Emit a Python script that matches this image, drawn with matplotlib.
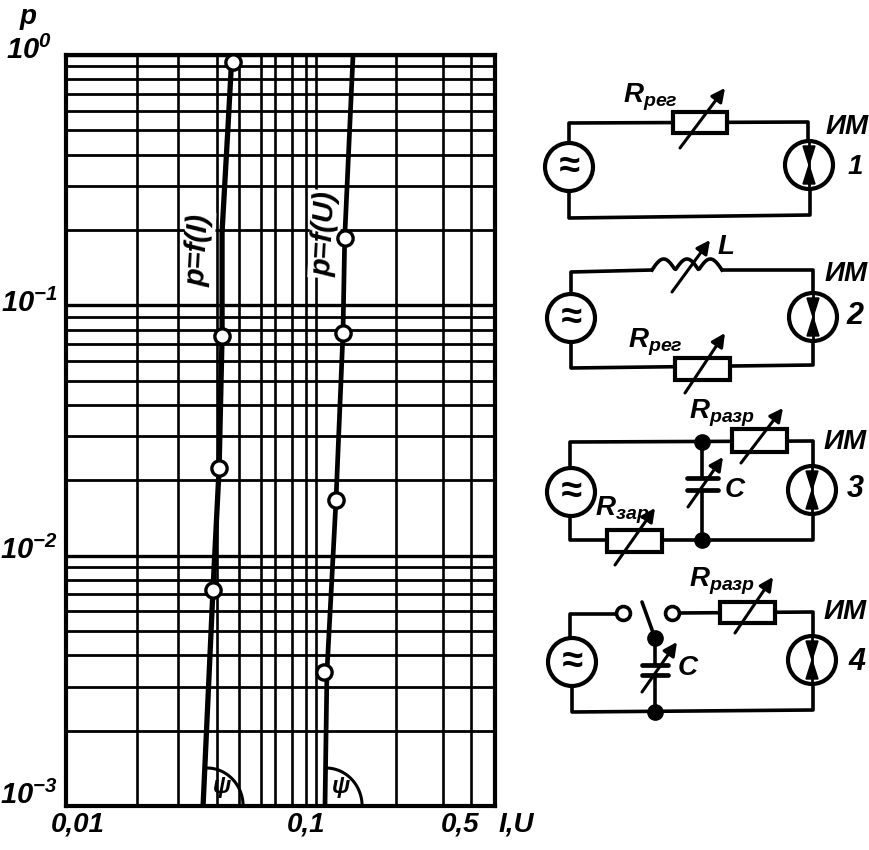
import numpy as np
import matplotlib
matplotlib.use('Agg')
import matplotlib.pyplot as plt
from matplotlib.patches import Circle, Rectangle, Polygon
from matplotlib.ticker import LogLocator, NullFormatter, NullLocator

plt.rcParams['font.family'] = ['Liberation Sans', 'DejaVu Sans']
plt.rcParams['font.weight'] = 'bold'
plt.rcParams['font.style'] = 'italic'
plt.rcParams['mathtext.fontset'] = 'custom'
plt.rcParams['mathtext.rm'] = 'Liberation Sans:italic:bold'
plt.rcParams['mathtext.it'] = 'Liberation Sans:italic:bold'
plt.rcParams['mathtext.bf'] = 'Liberation Sans:italic:bold'
plt.rcParams['mathtext.default'] = 'rm'

# vertical grid lines (the print is a bit off log)
grid_x = [0.01, 0.0191, 0.0278, 0.0396, 0.0484, 0.0592, 0.0672, 0.0785, 0.0892,
          0.0977, 0.2027, 0.3112, 0.4018, 0.5]

# p = f(I)
curve_i_x = [0.0454, 0.0438, 0.0415, 0.0415, 0.0404, 0.0382, 0.0349]
curve_i_p = [1.0, 0.515, 0.196, 0.0754, 0.0224, 0.0073, 0.001]
points_i_x = [0.0458, 0.0415, 0.0404, 0.0382]
points_i_p = [0.937, 0.0754, 0.0224, 0.0073]

# p = f(U)
curve_u_x = [0.137, 0.127, 0.125, 0.1173, 0.108, 0.1061]
curve_u_p = [1.0, 0.186, 0.0776, 0.0167, 0.00343, 0.001]
points_u_x = [0.127, 0.125, 0.1173, 0.1051]
points_u_p = [0.186, 0.0776, 0.0167, 0.00343]

x_labels = ['0,01', '0,1', '0,5', 'I,U']
y_labels = ['$10^{0}$', '$10^{-1}$', '$10^{-2}$', '$10^{-3}$']

W, H = 870, 850
fig = plt.figure(figsize=(W/100, H/100), dpi=100, facecolor='white')

# chart
ax = fig.add_axes([66/W, 1-806/H, (495-66)/W, (806-55)/H])
ax.set_xscale('log')
ax.set_yscale('log')
ax.set_xlim(0.01, 0.5)
ax.set_ylim(0.001, 1)
ax.set_xticks(grid_x)
ax.xaxis.set_minor_locator(NullLocator())
ax.xaxis.set_major_formatter(NullFormatter())
ax.xaxis.set_minor_formatter(NullFormatter())
ax.yaxis.set_major_locator(LogLocator(base=10, numticks=5))
ax.yaxis.set_minor_locator(LogLocator(base=10, subs=range(2, 10), numticks=5))
ax.yaxis.set_major_formatter(NullFormatter())
ax.yaxis.set_minor_formatter(NullFormatter())
ax.tick_params(which='both', length=0)
ax.grid(True, which='major', axis='x', color='k', lw=1.9)
ax.grid(True, which='major', axis='y', color='k', lw=2.4)
ax.grid(True, which='minor', axis='y', color='k', lw=2.0)
ax.set_axisbelow(True)
for s in ax.spines.values():
    s.set_linewidth(3.0)

ax.plot(curve_i_x, curve_i_p, color='k', lw=3.8, zorder=3)
ax.plot(curve_u_x, curve_u_p, color='k', lw=3.4, zorder=3)
ax.plot(points_i_x, points_i_p, 'o', ms=11, mfc='white', mec='k', mew=2.4, zorder=4)
ax.plot(points_u_x, points_u_p, 'o', ms=11, mfc='white', mec='k', mew=2.4, zorder=4)

# everything else is placed in pixels on a see-through layer
sk = fig.add_axes([0, 0, 1, 1])
sk.set_xlim(0, W)
sk.set_ylim(H, 0)
sk.axis('off')
sk.patch.set_alpha(0)


def wire(*pts, lw=2.6):
    xs, ys = zip(*pts)
    sk.plot(xs, ys, color='k', lw=lw, solid_capstyle='round', solid_joinstyle='round')


def label(x, y, s, size=20, rot=0, **kw):
    sk.text(x, y, s, fontsize=size, rotation=rot, ha='center', va='center', **kw)


def source(x, y):
    sk.add_patch(Circle((x, y), 24, fc='white', ec='k', lw=3.0, zorder=3))
    label(x, y, '≈', size=27, zorder=4)


def meter(x, y):
    sk.add_patch(Circle((x, y), 24, fc='white', ec='k', lw=3.0, zorder=3))
    sk.add_patch(Polygon([(x-6, y-19), (x+6, y-19), (x, y)], fc='k', ec='k', zorder=4))
    sk.add_patch(Polygon([(x-6, y+19), (x+6, y+19), (x, y)], fc='k', ec='k', zorder=4))
    sk.plot([x, x], [y-24, y+24], color='k', lw=2.0, zorder=4)


def resistor(x0, y0, x1, y1):
    sk.add_patch(Rectangle((x0, y0), x1-x0, y1-y0, fc='white', ec='k', lw=3.0, zorder=3))


def tune(x0, y0, x1, y1):
    sk.annotate('', xy=(x1, y1), xytext=(x0, y0), zorder=5,
                arrowprops=dict(arrowstyle='-|>', color='k', lw=2.2, mutation_scale=20,
                                shrinkA=0, shrinkB=0))


def node(x, y):
    sk.plot([x], [y], 'o', color='k', ms=11, zorder=5)


def open_contact(x, y):
    sk.plot([x], [y], 'o', mfc='white', mec='k', mew=2.6, ms=10, zorder=5)


def angle_arc(x, y, r):
    t = np.linspace(0, np.pi/2, 30)
    sk.plot(x + r*np.cos(t)*0.95, y - r*np.sin(t), color='k', lw=2.2)


# chart texts
label(28, 17, 'p', size=20)
for s, y in zip(y_labels, [50, 303, 550, 795]):
    label(29, y, s, size=21)
for s, x in zip(x_labels, [78, 306, 460, 516]):
    label(x, 825, s, size=20)
box = dict(fc='white', ec='none', pad=1.0)
# these two sit under the curves and circles but over the grid
for x, y, s in [(199, 250, 'p=f(I)'), (325, 234, 'p=f(U)')]:
    ax.text(x, y, s, fontsize=21, rotation=87, ha='center', va='center',
            transform=sk.transData, bbox=box, zorder=2.5)
angle_arc(207, 806, 38)
angle_arc(326, 806, 38)
label(222, 787, 'ψ', size=17)
label(341, 787, 'ψ', size=17)

# circuit 1
wire((569, 143), (569, 123), (808, 122), (808, 142))
wire((569, 190), (569, 218), (810, 215), (810, 188))
source(569, 167)
meter(809, 165)
resistor(673, 112, 727, 133)
tune(680, 148, 725, 88)
label(650, 97, '$R_{рег}$', size=20)
label(847, 127, 'ИМ', size=20)
label(855, 167, '1', size=20)

# circuit 2
wire((571, 295), (571, 272), (652, 270))
wire((722, 270), (813, 270), (813, 293))
coil_x = np.linspace(652, 722, 60)
sk.plot(coil_x, 270 - 11*np.abs(np.sin((coil_x-652)/70*3*np.pi)), color='k', lw=2.6)
wire((571, 343), (571, 368), (813, 365), (813, 342))
source(571, 318)
meter(813, 317)
resistor(675, 358, 730, 380)
tune(672, 292, 710, 240)
tune(685, 393, 725, 333)
label(726, 247, 'L', size=20)
label(655, 342, '$R_{рег}$', size=20)
label(846, 274, 'ИМ', size=20)
label(855, 316, '2', size=22)

# circuit 3
wire((570, 467), (570, 442), (813, 441), (813, 465))
wire((570, 517), (570, 540), (813, 540), (813, 515))
wire((702, 442), (702, 478))
wire((702, 490), (702, 540))
wire((687, 478), (718, 478), lw=3.4)
wire((687, 490), (718, 490), lw=3.4)
source(571, 492)
meter(812, 490)
resistor(732, 429, 787, 452)
resistor(607, 530, 662, 552)
node(702, 442)
node(702, 540)
tune(741, 463, 783, 408)
tune(688, 507, 723, 457)
tune(615, 565, 655, 508)
label(722, 413, '$R_{разр}$', size=20)
label(622, 510, '$R_{зар}$', size=20)
label(735, 490, 'C', size=20)
label(845, 442, 'ИМ', size=20)
label(855, 489, '3', size=22)

# circuit 4
wire((570, 638), (570, 614), (617, 614))
wire((678, 613), (813, 612), (813, 635))
wire((642, 602), (655, 638))
wire((655, 638), (655, 665))
wire((655, 675), (655, 712))
wire((642, 665), (668, 665), lw=3.4)
wire((642, 675), (668, 675), lw=3.4)
wire((572, 687), (572, 712), (813, 710), (813, 685))
source(572, 662)
meter(812, 660)
resistor(720, 602, 775, 623)
open_contact(623, 613)
open_contact(672, 613)
node(655, 638)
node(655, 712)
tune(642, 692, 677, 642)
tune(735, 633, 773, 577)
label(722, 581, '$R_{разр}$', size=20)
label(688, 668, 'C', size=20)
label(845, 612, 'ИМ', size=20)
label(857, 662, '4', size=22)

fig.savefig('out.png', dpi=100)
